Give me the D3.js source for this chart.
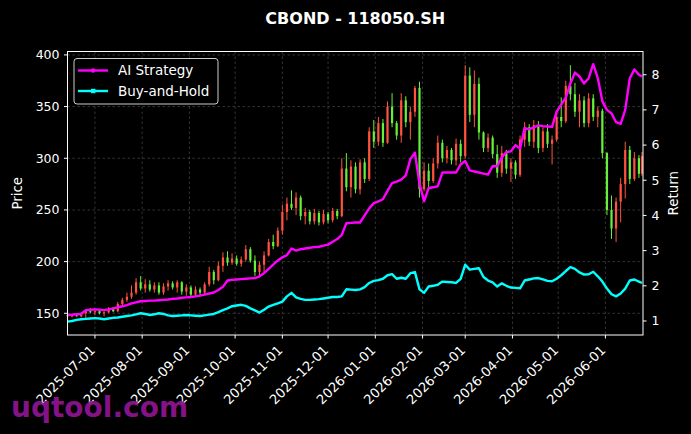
<!DOCTYPE html>
<html><head><meta charset="utf-8">
<script src="https://cdn.jsdelivr.net/npm/d3@7"></script>
<style>html,body{margin:0;padding:0;background:#000;}svg{display:block;}</style>
</head><body>
<svg id="chart" width="691" height="434"></svg>
<script>
const title = "CBOND - 118050.SH";
const dates = ["2025-06-13","2025-06-16","2025-06-19","2025-06-22","2025-06-25","2025-06-28",
"2025-07-01","2025-07-04","2025-07-07","2025-07-10","2025-07-13","2025-07-16","2025-07-19","2025-07-22","2025-07-25","2025-07-28","2025-07-31",
"2025-08-03","2025-08-06","2025-08-09","2025-08-12","2025-08-15","2025-08-18","2025-08-21","2025-08-24","2025-08-27","2025-08-30",
"2025-09-02","2025-09-05","2025-09-08","2025-09-11","2025-09-14","2025-09-17","2025-09-20","2025-09-23","2025-09-26","2025-09-29",
"2025-10-02","2025-10-05","2025-10-08","2025-10-11","2025-10-14","2025-10-17","2025-10-20","2025-10-23","2025-10-26","2025-10-29",
"2025-11-01","2025-11-04","2025-11-07","2025-11-10","2025-11-13","2025-11-16","2025-11-19","2025-11-22","2025-11-25","2025-11-28",
"2025-12-01","2025-12-04","2025-12-07","2025-12-10","2025-12-13","2025-12-16","2025-12-19","2025-12-22","2025-12-25","2025-12-28","2025-12-31",
"2026-01-03","2026-01-06","2026-01-09","2026-01-12","2026-01-15","2026-01-18","2026-01-21","2026-01-24","2026-01-27","2026-01-30",
"2026-02-02","2026-02-05","2026-02-08","2026-02-11","2026-02-14","2026-02-17","2026-02-20","2026-02-23","2026-02-26",
"2026-03-01","2026-03-04","2026-03-07","2026-03-10","2026-03-13","2026-03-16","2026-03-19","2026-03-22","2026-03-25","2026-03-28","2026-03-31",
"2026-04-03","2026-04-06","2026-04-09","2026-04-12","2026-04-15","2026-04-18","2026-04-21","2026-04-24","2026-04-27","2026-04-30",
"2026-05-03","2026-05-06","2026-05-09","2026-05-12","2026-05-15","2026-05-18","2026-05-21","2026-05-24","2026-05-27","2026-05-30",
"2026-06-02","2026-06-05","2026-06-08","2026-06-11","2026-06-14","2026-06-17","2026-06-20","2026-06-23","2026-06-25"];

const open  = [148,147,148,147,150,152,151,152,150,151,154,152,159,163,166,170,180,174,178,173,177,170,176,179,175,180,171,175,168,173,170,178,190,182,196,204,199,203,198,202,212,201,190,197,206,219,215,230,248,256,252,262,244,248,239,247,238,246,240,249,244,290,272,292,270,296,280,326,316,334,315,350,334,322,356,335,345,368,270,288,278,295,315,300,308,298,314,302,380,342,372,325,310,320,304,286,305,290,296,284,318,330,316,332,310,326,314,318,340,336,370,362,345,356,334,358,340,346,305,250,232,258,275,308,280,300,285];
const high  = [150,149,150,151,153,155,153,154,152,156,156,161,165,170,177,184,186,183,182,180,180,179,182,181,182,181,178,177,176,175,180,195,192,200,209,210,208,206,205,216,214,206,200,210,222,226,233,255,262,269,267,264,252,250,251,249,250,248,252,251,300,305,298,296,299,300,330,337,340,338,355,363,336,363,360,350,370,374,296,295,300,322,318,312,310,319,318,390,388,385,378,326,324,322,313,312,308,300,298,322,335,333,337,336,330,333,322,345,359,375,390,373,362,360,363,362,350,348,306,264,262,281,316,312,306,303,306];
const low   = [146,146,147,146,145,150,148,149,147,150,151,151,157,161,164,168,172,170,171,170,168,168,172,173,170,168,167,166,166,167,168,176,178,181,190,196,197,196,195,200,199,186,185,190,205,212,214,226,240,250,245,240,236,236,236,235,236,237,238,241,243,268,262,266,265,276,278,310,312,311,314,330,318,315,330,318,340,262,268,272,276,290,296,295,294,293,296,300,335,330,318,306,306,300,281,282,285,277,280,282,311,312,310,305,306,310,294,316,330,334,356,340,330,330,330,336,330,300,245,222,219,238,261,275,278,281,283];
const close = [147,148,147,150,152,151,152,150,151,154,152,159,163,166,170,180,174,178,173,177,170,176,179,175,180,171,175,168,173,170,178,190,182,196,204,199,203,198,202,212,201,190,197,206,219,215,230,248,256,252,262,244,248,239,247,238,246,240,249,244,290,272,292,270,296,280,326,316,334,315,350,334,322,356,335,345,368,270,288,278,295,315,300,308,298,314,302,380,342,372,325,310,320,304,286,305,290,296,284,318,330,316,332,310,326,314,318,340,336,370,362,345,356,334,358,340,346,305,250,232,258,275,308,280,300,285,302];

const aiStrategy = [1.17,1.18,1.19,1.2,1.31,1.32,1.33,1.32,1.31,1.33,1.36,1.39,1.42,1.45,1.5,1.53,1.56,1.57,1.58,1.58,1.59,1.6,1.61,1.63,1.64,1.66,1.67,1.68,1.7,1.72,1.75,1.78,1.81,1.88,1.97,2.15,2.17,2.18,2.19,2.2,2.21,2.22,2.27,2.36,2.48,2.6,2.72,2.81,2.87,3.06,3.0,3.04,3.06,3.08,3.1,3.11,3.14,3.17,3.25,3.33,3.45,3.78,3.79,3.8,3.8,4.0,4.2,4.35,4.4,4.46,4.7,4.92,4.96,5.02,5.14,5.6,5.78,4.9,4.4,4.78,4.8,4.83,5.22,5.22,5.22,5.22,5.45,5.55,5.28,5.25,5.22,5.19,5.16,5.4,5.4,5.65,5.8,5.82,6.0,5.9,6.48,6.45,6.5,6.56,6.54,6.53,6.52,6.95,7.15,7.35,7.75,8.06,7.95,7.75,7.9,8.3,7.9,7.25,7.0,6.9,6.65,6.6,7.0,7.9,8.15,8.0,7.95];
const buyHold = [0.98,1.0,1.03,1.05,1.06,1.07,1.08,1.07,1.05,1.07,1.09,1.1,1.12,1.14,1.16,1.19,1.22,1.2,1.17,1.19,1.22,1.2,1.16,1.14,1.15,1.16,1.17,1.16,1.15,1.14,1.16,1.18,1.2,1.25,1.31,1.36,1.42,1.44,1.46,1.43,1.36,1.3,1.24,1.32,1.41,1.46,1.5,1.55,1.7,1.8,1.67,1.63,1.6,1.6,1.61,1.62,1.64,1.66,1.68,1.68,1.7,1.9,1.89,1.88,1.9,1.96,2.08,2.14,2.16,2.2,2.3,2.33,2.2,2.23,2.2,2.36,2.39,1.9,1.8,1.98,2.0,2.03,2.12,2.11,2.1,2.08,2.2,2.6,2.46,2.48,2.5,2.25,2.15,2.1,1.98,2.07,2.0,1.95,1.94,1.93,2.15,2.18,2.21,2.22,2.18,2.14,2.13,2.2,2.3,2.42,2.53,2.48,2.38,2.32,2.33,2.4,2.27,2.12,1.92,1.76,1.7,1.78,1.92,2.15,2.18,2.12,2.08];

const xTicks = ["2025-07-01","2025-08-01","2025-09-01","2025-10-01","2025-11-01","2025-12-01","2026-01-01","2026-02-01","2026-03-01","2026-04-01","2026-05-01","2026-06-01"];
const priceTicks = [150,200,250,300,350,400];
const returnTicks = [1,2,3,4,5,6,7,8];
const seriesNames = ["AI Strategy","Buy-and-Hold"];

const parse = d3.utcParse("%Y-%m-%d");
const W = 691, H = 434;
const m = {l: 67.5, r: 643, t: 51.5, b: 335};
const svg = d3.select("#chart");
svg.append("rect").attr("width", W).attr("height", H).attr("fill", "#000");

const x = d3.scaleUtc().domain([parse("2025-06-13"), new Date(Date.UTC(2026,5,25,16))]).range([m.l, m.r]);
const yP = d3.scaleLinear().domain([129.0, 403.3]).range([m.b, m.t]);
const yR = d3.scaleLinear().domain([0.6016, 8.66]).range([m.b, m.t]);

const font = "DejaVu Sans, sans-serif";
const dts = dates.map(parse);

// grid
const grid = svg.append("g");
xTicks.forEach(t => {
  grid.append("line").attr("x1", x(parse(t))).attr("x2", x(parse(t))).attr("y1", m.t).attr("y2", m.b)
    .attr("stroke", "#555").attr("stroke-width", 0.6).attr("stroke-dasharray", "2.5,2.5");
});
priceTicks.forEach(t => {
  grid.append("line").attr("x1", m.l).attr("x2", m.r).attr("y1", yP(t)).attr("y2", yP(t))
    .attr("stroke", "#555").attr("stroke-width", 0.6).attr("stroke-dasharray", "2.5,2.5");
});

// candles
const up = "#ff5240", down = "#66f03c";
const cg = svg.append("g");
dts.forEach((d, i) => {
  const col = close[i] >= open[i] ? up : down;
  const cx = x(d);
  cg.append("line").attr("x1", cx).attr("x2", cx).attr("y1", yP(high[i])).attr("y2", yP(low[i]))
    .attr("stroke", col).attr("stroke-width", 1);
  const y0 = yP(Math.max(open[i], close[i])), y1 = yP(Math.min(open[i], close[i]));
  cg.append("rect").attr("x", cx - 1.1).attr("width", 2.2).attr("y", y0).attr("height", Math.max(0.8, y1 - y0))
    .attr("fill", col);
});

// lines
const lineGen = arr => d3.line().x((d, i) => x(dts[i])).y(d => yR(d))(arr);
svg.append("path").attr("d", lineGen(buyHold)).attr("fill", "none").attr("stroke", "#00ffff").attr("stroke-width", 2.4).attr("stroke-linejoin", "round");
svg.append("path").attr("d", lineGen(aiStrategy)).attr("fill", "none").attr("stroke", "#ff00ff").attr("stroke-width", 2.4).attr("stroke-linejoin", "round");

// spines
svg.append("rect").attr("x", m.l).attr("y", m.t).attr("width", m.r - m.l).attr("height", m.b - m.t)
  .attr("fill", "none").attr("stroke", "#fff").attr("stroke-width", 1);

// axes
const tickCol = "#fff";
const ax = svg.append("g").attr("font-family", font).attr("fill", tickCol);
xTicks.forEach(t => {
  const tx = x(parse(t));
  ax.append("line").attr("x1", tx).attr("x2", tx).attr("y1", m.b).attr("y2", m.b + 3.5).attr("stroke", tickCol);
  ax.append("text").attr("transform", `translate(${tx + 1},${m.b + 16}) rotate(-45)`)
    .attr("text-anchor", "end").attr("font-size", 13.2).text(t);
});
priceTicks.forEach(t => {
  const ty = yP(t);
  ax.append("line").attr("x1", m.l - 3.5).attr("x2", m.l).attr("y1", ty).attr("y2", ty).attr("stroke", tickCol);
  ax.append("text").attr("x", m.l - 8).attr("y", ty).attr("dy", "0.35em").attr("text-anchor", "end").attr("font-size", 12.5).text(t);
});
returnTicks.forEach(t => {
  const ty = yR(t);
  ax.append("line").attr("x1", m.r).attr("x2", m.r + 3.5).attr("y1", ty).attr("y2", ty).attr("stroke", tickCol);
  ax.append("text").attr("x", m.r + 8.5).attr("y", ty).attr("dy", "0.35em").attr("text-anchor", "start").attr("font-size", 12.5).text(t);
});
ax.append("text").attr("transform", `translate(22,${(m.t + m.b) / 2}) rotate(-90)`).attr("text-anchor", "middle").attr("font-size", 13.4).text("Price");
ax.append("text").attr("transform", `translate(678,${(m.t + m.b) / 2}) rotate(-90)`).attr("text-anchor", "middle").attr("font-size", 13.4).text("Return");

// title
svg.append("text").attr("x", (m.l + m.r) / 2).attr("y", 24).attr("text-anchor", "middle")
  .attr("font-family", font).attr("font-weight", "bold").attr("font-size", 16).attr("fill", "#fff").text(title);

// legend
const lg = svg.append("g").attr("font-family", font);
lg.append("rect").attr("x", 74).attr("y", 58.5).attr("width", 144).attr("height", 45.5).attr("rx", 3)
  .attr("fill", "#000").attr("stroke", "#ccc").attr("stroke-width", 1);
const legCols = ["#ff00ff", "#00ffff"];
seriesNames.forEach((n, k) => {
  const ly = 70.5 + k * 20.5;
  lg.append("line").attr("x1", 78).attr("x2", 108).attr("y1", ly).attr("y2", ly).attr("stroke", legCols[k]).attr("stroke-width", 2.4);
  if (k === 0) lg.append("circle").attr("cx", 93).attr("cy", ly).attr("r", 2.2).attr("fill", legCols[k]);
  else lg.append("rect").attr("x", 91).attr("y", ly - 2.2).attr("width", 4.4).attr("height", 4.4).attr("fill", legCols[k]);
  lg.append("text").attr("x", 118).attr("y", ly).attr("dy", "0.36em").attr("font-size", 13.5).attr("fill", "#fff").text(n);
});

// watermark
svg.append("text").attr("x", 11).attr("y", 417).attr("font-family", font).attr("font-weight", "bold")
  .attr("font-size", 28).attr("fill", "#8e1490").attr("fill-opacity", 0.95).text("uqtool.com");
</script>
</body></html>
